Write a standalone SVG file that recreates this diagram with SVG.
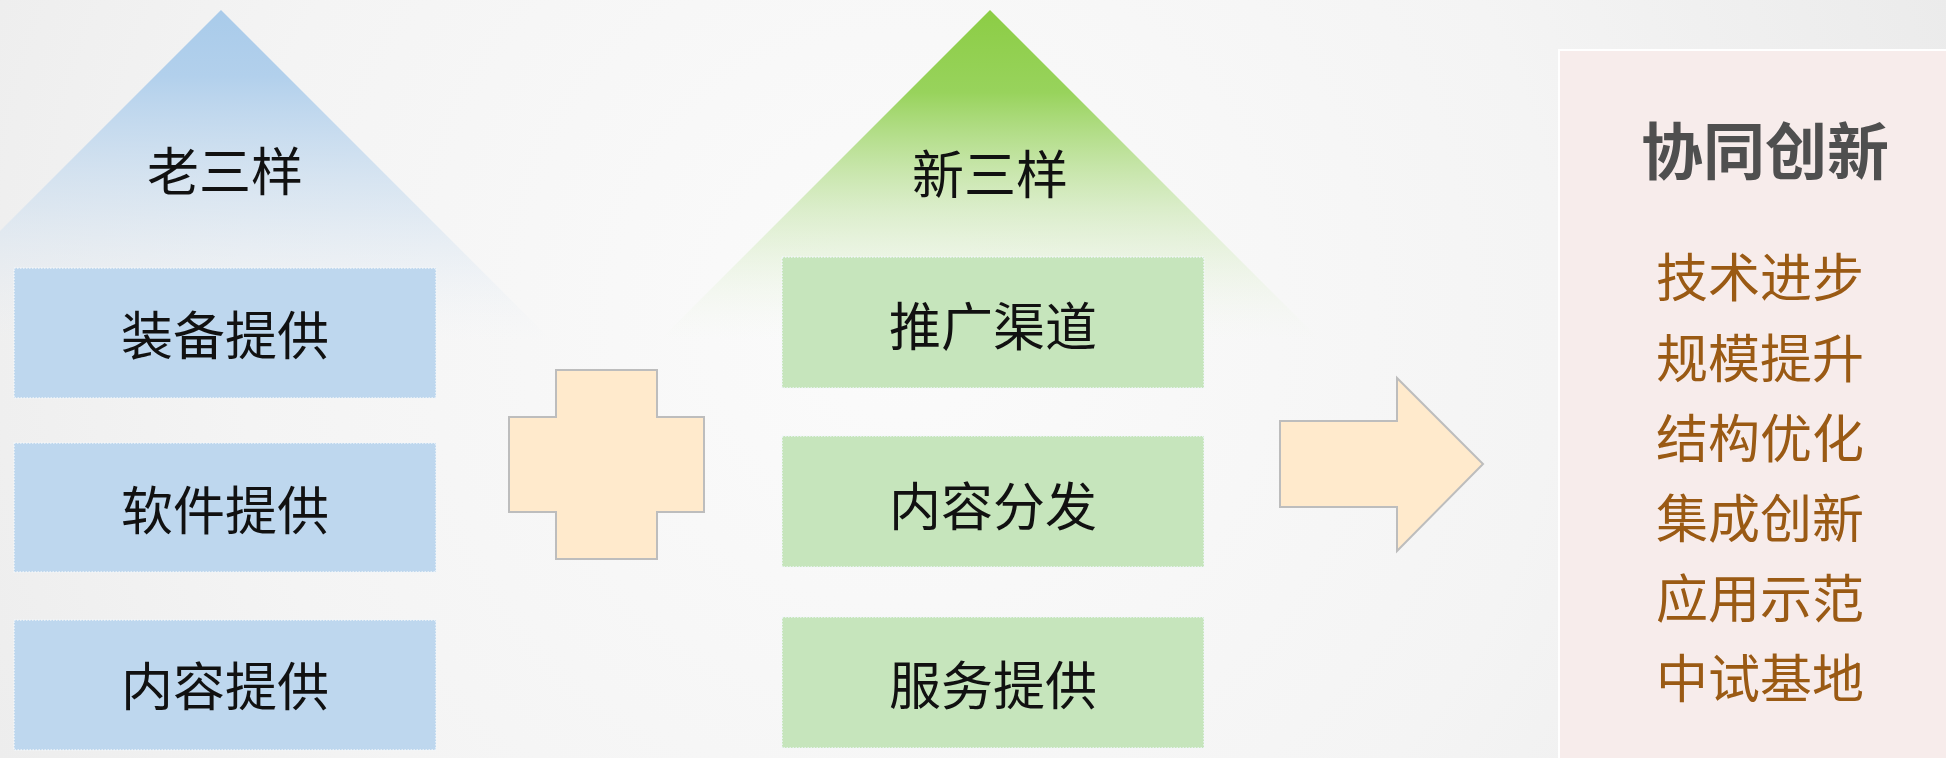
<svg xmlns="http://www.w3.org/2000/svg" width="1946" height="758" viewBox="0 0 1946 758">
<defs>
<radialGradient id="bg" cx="900" cy="320" r="1100" gradientUnits="userSpaceOnUse">
<stop offset="0" stop-color="#fbfbfb"/>
<stop offset="0.6" stop-color="#f4f4f4"/>
<stop offset="1" stop-color="#ebebeb"/>
</radialGradient>
<linearGradient id="gBlue" x1="0" y1="10" x2="0" y2="340" gradientUnits="userSpaceOnUse">
<stop offset="0" stop-color="#a9cbea" stop-opacity="1"/>
<stop offset="0.2" stop-color="#b2d0ec" stop-opacity="1"/>
<stop offset="0.6" stop-color="#cfe0f0" stop-opacity="0.6"/>
<stop offset="1" stop-color="#e8eef5" stop-opacity="0"/>
</linearGradient>
<linearGradient id="gGreen" x1="0" y1="10" x2="0" y2="340" gradientUnits="userSpaceOnUse">
<stop offset="0" stop-color="#8ccd45" stop-opacity="1"/>
<stop offset="0.25" stop-color="#98d35c" stop-opacity="1"/>
<stop offset="0.6" stop-color="#cde8b5" stop-opacity="0.7"/>
<stop offset="1" stop-color="#eef6e8" stop-opacity="0"/>
</linearGradient>
</defs>
<style>
.box{stroke:#f2f6fa;stroke-width:1.5;stroke-dasharray:1.5 1.5}
.blue{fill:#bed7ee}
.green{fill:#c6e5bc}
.lbl{font-family:"Noto Sans CJK SC","Noto Sans",sans-serif;font-size:52px;fill:#111111;text-anchor:middle}
.shape{fill:#ffeacc;stroke:#bdbdbd;stroke-width:2}
.title{font-family:"Noto Sans CJK SC","Noto Sans",sans-serif;font-size:62px;font-weight:bold;fill:#4f4f4f;text-anchor:middle}
.item{font-family:"Noto Sans CJK SC","Noto Sans",sans-serif;font-size:52px;fill:#9a5a14;text-anchor:middle}
</style>
<rect x="0" y="0" width="1946" height="758" fill="url(#bg)"/>

<g id="old-group">
<polygon points="221,10 551,340 -109,340" fill="url(#gBlue)"/>
<text class="lbl" x="225" y="191">老三样</text>
</g>
<g id="old-1">
<rect class="box blue" x="14" y="268" width="422" height="130"/>
<text class="lbl" x="225" y="355">装备提供</text>
</g>
<g id="old-2">
<rect class="box blue" x="14" y="443" width="422" height="129"/>
<text class="lbl" x="225" y="530">软件提供</text>
</g>
<g id="old-3">
<rect class="box blue" x="14" y="620" width="422" height="130"/>
<text class="lbl" x="225" y="706">内容提供</text>
</g>

<g id="plus">
<polygon class="shape" points="556,370 657,370 657,417 704,417 704,512 657,512 657,559 556,559 556,512 509,512 509,417 556,417"/>
</g>

<g id="new-group">
<polygon points="990,10 1320,340 660,340" fill="url(#gGreen)"/>
<text class="lbl" x="990" y="194">新三样</text>
</g>
<g id="new-1">
<rect class="box green" x="782" y="257" width="422" height="131"/>
<text class="lbl" x="993" y="346">推广渠道</text>
</g>
<g id="new-2">
<rect class="box green" x="782" y="436" width="422" height="131"/>
<text class="lbl" x="993" y="526">内容分发</text>
</g>
<g id="new-3">
<rect class="box green" x="782" y="617" width="422" height="131"/>
<text class="lbl" x="993" y="705">服务提供</text>
</g>

<g id="connectors">
<polygon id="arrow" class="shape" points="1280,421 1397,421 1397,378 1483,464 1397,551 1397,507 1280,507"/>
</g>

<g id="result">
<rect x="1559" y="50" width="400" height="720" fill="#f7eceb" stroke="#ffffff" stroke-width="2"/>
<text class="title" x="1765" y="175">协同创新</text>
<text class="item" x="1760" y="297">技术进步</text>
<text class="item" x="1760" y="378">规模提升</text>
<text class="item" x="1760" y="458">结构优化</text>
<text class="item" x="1760" y="538">集成创新</text>
<text class="item" x="1760" y="618">应用示范</text>
<text class="item" x="1760" y="698">中试基地</text>
</g>
</svg>
